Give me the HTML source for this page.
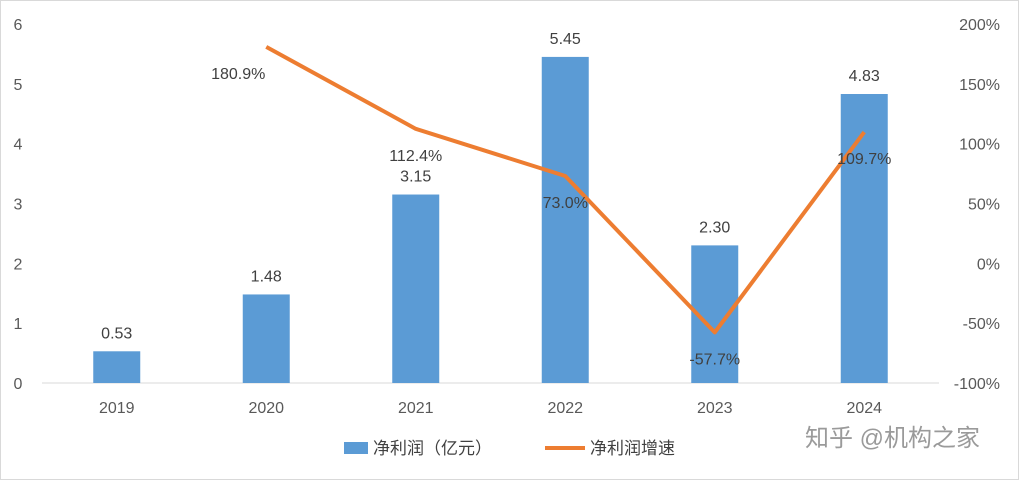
<!DOCTYPE html>
<html><head><meta charset="utf-8"><style>
body{margin:0;background:#fff}
svg text{font-family:"Liberation Sans","Noto Sans CJK SC",sans-serif}
</style></head><body>
<svg id="c" width="1019" height="480">
<rect x="0.5" y="0.5" width="1018" height="479" fill="#fff" stroke="#d9d9d9"/>
<g id="g"></g>
<g>
<rect x="344" y="442" width="24" height="12" fill="#5b9bd5"/>
<text x="373" y="454" font-size="17" fill="#404040">净利润（亿元）</text>
<line x1="545" y1="448" x2="585" y2="448" stroke="#ed7d31" stroke-width="4"/>
<text x="590" y="454" font-size="17" fill="#404040">净利润增速</text>
</g>
<text x="805" y="446" font-size="24" fill="#9a9a9a">知乎 @机构之家</text>
</svg>
<script>
const categories=["2019","2020","2021","2022","2023","2024"];
const profit=[0.53,1.48,3.15,5.45,2.30,4.83];
const growth=[null,180.9,112.4,73.0,-57.7,109.7];
const leftTicks=[0,1,2,3,4,5,6];
const rightTicks=[-100,-50,0,50,100,150,200];
const ns="http://www.w3.org/2000/svg",g=document.getElementById('g');
const x0=42,x1=939,yB=383,yT=24;
const bw=(x1-x0)/categories.length;
const xc=i=>x0+bw*(i+0.5);
const yl=v=>yB-(v/6)*(yB-yT);
const yr=v=>yB-((v+100)/300)*(yB-yT);
function el(t,a,txt){const e=document.createElementNS(ns,t);for(const k in a)e.setAttribute(k,a[k]);if(txt!=null)e.textContent=txt;g.appendChild(e);return e;}
let e=el('line',{x1:x0,x2:x1,y1:yB,y2:yB,stroke:'#d9d9d9'});


leftTicks.forEach(v=>{const t=el('text',{x:18,y:yl(v)+6,'font-size':16,fill:'#595959','text-anchor':'middle'},v);

});
rightTicks.forEach(v=>{const t=el('text',{x:1000,y:yr(v)+6,'font-size':16,fill:'#595959','text-anchor':'end'},v+'%');

});
categories.forEach((c,i)=>{
const t=el('text',{x:xc(i),y:413,'font-size':16,fill:'#595959','text-anchor':'middle'},c);


const b=el('rect',{x:xc(i)-23.5,y:yl(profit[i]),width:47,height:yB-yl(profit[i]),fill:'#5b9bd5'});


const l=el('text',{x:xc(i),y:yl(profit[i])-13,'font-size':16,fill:'#404040','text-anchor':'middle'},profit[i].toFixed(2));


});
let pts=[];growth.forEach((v,i)=>{if(v!=null)pts.push(xc(i)+','+yr(v));});
const pl=el('polyline',{points:pts.join(' '),fill:'none',stroke:'#ed7d31','stroke-width':4,'stroke-linejoin':'round'});


growth.forEach((v,i)=>{if(v==null)return;const dx=i==1?-28:0;
const t=el('text',{x:xc(i)+dx,y:yr(v)+32,'font-size':16,fill:'#404040','text-anchor':'middle'},v.toFixed(1)+'%');

});
</script>
</body></html>
